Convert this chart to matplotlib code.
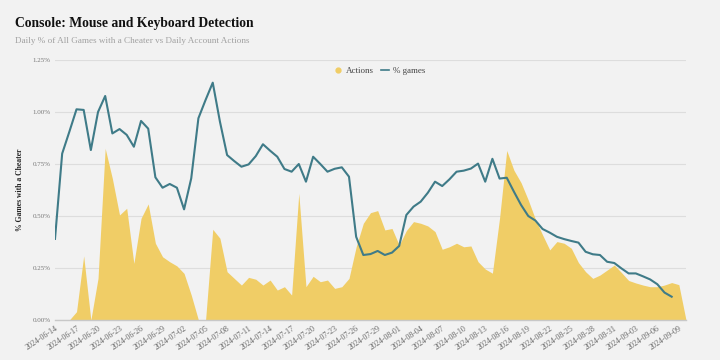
import matplotlib
matplotlib.use("Agg")
import matplotlib.pyplot as plt
import pandas as pd
import numpy as np
from matplotlib.lines import Line2D

start_date = "2024-06-14"
end_date = "2024-09-10"

pct_games = [0.39, 0.80, 0.905, 1.013, 1.01, 0.817, 1.00, 1.077, 0.897, 0.918,
             0.89, 0.833, 0.957, 0.92, 0.686, 0.636, 0.654, 0.636, 0.532, 0.681,
             0.97, 1.058, 1.141, 0.954, 0.793, 0.764, 0.737, 0.748, 0.788, 0.845,
             0.814, 0.785, 0.726, 0.713, 0.75, 0.665, 0.785, 0.75, 0.713, 0.727,
             0.734, 0.689, 0.40, 0.3125, 0.317, 0.332, 0.3125, 0.324, 0.356, 0.505,
             0.545, 0.569, 0.612, 0.665, 0.644, 0.676, 0.713, 0.718, 0.728, 0.752,
             0.665, 0.775, 0.68, 0.684, 0.617, 0.553, 0.50, 0.478, 0.4375, 0.42,
             0.40, 0.389, 0.38, 0.372, 0.328, 0.316, 0.3125, 0.28, 0.274, 0.248,
             0.224, 0.224, 0.21, 0.195, 0.172, 0.132, 0.112]

actions = [0, 0, 0, 0.04, 0.308, 0, 0.2, 0.825, 0.68, 0.505,
           0.537, 0.272, 0.489, 0.558, 0.369, 0.304, 0.28, 0.26, 0.224, 0.12,
           0, 0, 0.436, 0.393, 0.232, 0.2, 0.168, 0.205, 0.196, 0.168,
           0.192, 0.144, 0.16, 0.12, 0.609, 0.16, 0.21, 0.184, 0.192, 0.152,
           0.16, 0.2, 0.352, 0.465, 0.516, 0.526, 0.433, 0.44, 0.36, 0.43,
           0.473, 0.465, 0.452, 0.425, 0.34, 0.352, 0.369, 0.352, 0.356, 0.28,
           0.245, 0.225, 0.49, 0.815, 0.72, 0.66, 0.577, 0.484, 0.409, 0.337,
           0.377, 0.369, 0.345, 0.276, 0.232, 0.2, 0.216, 0.24, 0.264, 0.228,
           0.19, 0.178, 0.168, 0.16, 0.16, 0.168, 0.18, 0.17, 0]

y_ticks = [0.0, 0.25, 0.5, 0.75, 1.0, 1.25]
y_tick_labels = ["0.00%", "0.25%", "0.50%", "0.75%", "1.00%", "1.25%"]

dates = pd.date_range(start_date, end_date, freq="D")
tick_dates = dates[:-1][::3]
tick_labels = [d.strftime("%Y-%m-%d") for d in tick_dates]

BG = "#f2f2f2"
YELLOW = "#f0cd66"
TEAL = "#3f7b88"
SERIF = ["Liberation Serif", "DejaVu Serif"]

fig = plt.figure(figsize=(7.2, 3.6), dpi=100, facecolor=BG)
ax = fig.add_axes([55/720, 1-320/360, 631/720, 260/360])
ax.set_facecolor(BG)

ax.fill_between(dates[:len(actions)], actions, 0, color=YELLOW, linewidth=0, zorder=2)
ax.plot(dates[:len(pct_games)], pct_games, color=TEAL, linewidth=1.5, zorder=3)

ax.set_xlim(dates[0], dates[-1])
ax.set_ylim(0, 1.25)
ax.set_yticks(y_ticks)
ax.set_yticklabels(y_tick_labels, family=SERIF, fontsize=5, color="#777777")
ax.set_xticks(tick_dates)
ax.set_xticklabels(tick_labels, family=SERIF, fontsize=5.8, color="#666666",
                   rotation=34, ha="right", rotation_mode="anchor")
ax.tick_params(axis="both", length=0, pad=3)
ax.grid(axis="y", color="#dddddd", linewidth=0.8, zorder=0)
ax.grid(axis="x", visible=False)
for s in ["top", "right", "left"]:
    ax.spines[s].set_visible(False)
ax.spines["bottom"].set_color("#c8c8c8")
ax.spines["bottom"].set_linewidth(1.0)
ax.spines["bottom"].set_zorder(4)

ax.set_ylabel("% Games with a Cheater", family=SERIF, fontsize=5.5,
              fontweight="bold", color="#222222", labelpad=6)

handles = [Line2D([], [], marker="o", linestyle="none", color=YELLOW, markersize=3.5),
           Line2D([], [], color=TEAL, linewidth=1.2)]
leg = ax.legend(handles, ["Actions", "% games"], loc="upper center",
                bbox_to_anchor=(0.515, 1.005), ncol=2, frameon=False,
                prop={"family": SERIF, "size": 6.5}, handlelength=0.8,
                handletextpad=0.5, columnspacing=0.8)
for t in leg.get_texts():
    t.set_color("#444444")

fig.text(15/720, 1-27/360, "Console: Mouse and Keyboard Detection", family=SERIF,
         fontsize=9.8, fontweight="bold", color="#111111", ha="left", va="baseline")
fig.text(15/720, 1-43/360, "Daily % of All Games with a Cheater vs Daily Account Actions",
         family=SERIF, fontsize=6.6, color="#a0a0a0", ha="left", va="baseline")

fig.savefig("out.png", dpi=100, facecolor=BG)
